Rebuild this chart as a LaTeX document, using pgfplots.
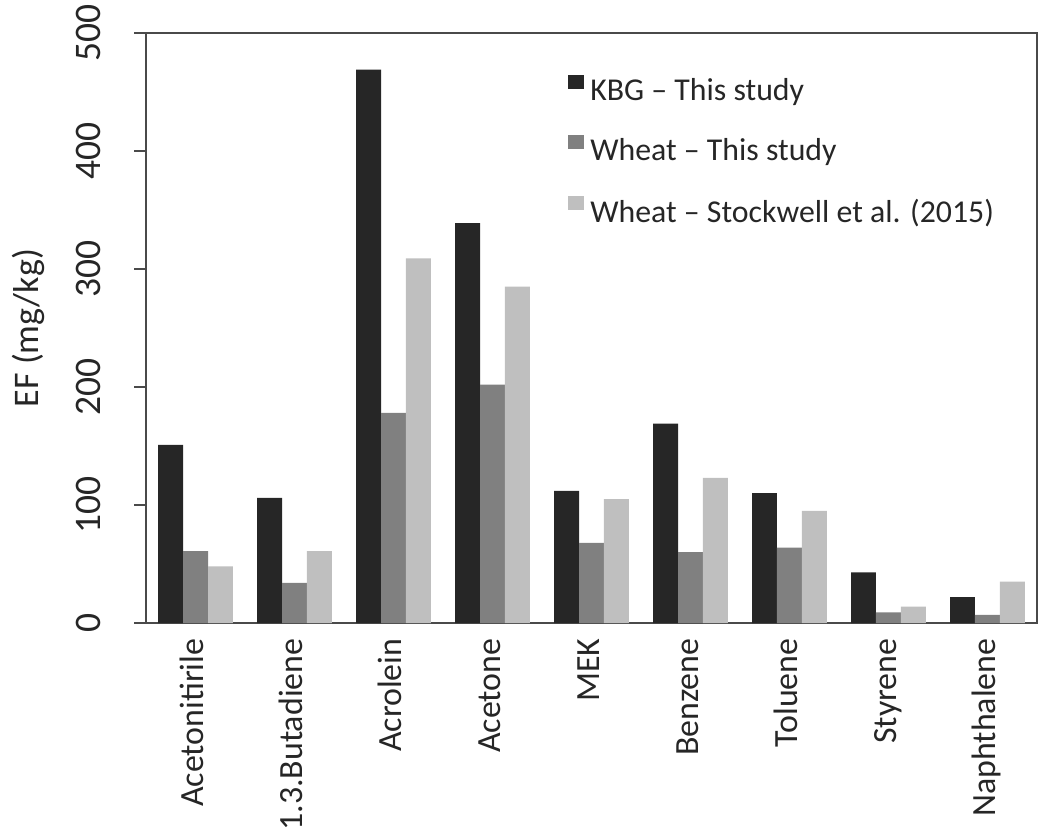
\documentclass[border=0pt]{standalone}
\usepackage{pgfplots}
\pgfplotsset{compat=1.18}
\usepackage{fontspec}
\setmainfont{Carlito}
\definecolor{cA}{HTML}{262626}
\definecolor{cB}{HTML}{808080}
\definecolor{cC}{HTML}{BFBFBF}
\definecolor{axc}{HTML}{4A4A4A}
\begin{document}
\fontsize{11.3}{13.5}\selectfont
\begin{tikzpicture}
\useasboundingbox (-48.67pt,-68.67pt) rectangle (301.33pt,207.67pt);
\begin{axis}[
  at={(0pt,0pt)}, anchor=south west,
  width=297pt, height=196.67pt, scale only axis,
  xmin=-0.5, xmax=8.5, ymin=0, ymax=500,
  ybar=0pt, bar width=8.33pt,
  ytick={0,100,200,300,400,500},
  xtick={0,1,2,3,4,5,6,7,8},
  xticklabels={Acetonitirile,1.3.Butadiene,Acrolein,Acetone,MEK,Benzene,Toluene,Styrene,Naphthalene},
  x tick style={draw=none},
  ytick pos=left,
  tick align=outside,
  major tick length=4pt,
  y tick style={draw=axc, line width=0.7pt},
  axis line style={draw=axc, line width=0.7pt},
  ticklabel style={text=black!85},
  /pgf/number format/assume math mode=true,
  yticklabel style={rotate=90, anchor=south, inner sep=0pt, font=\fontsize{12.5}{14}\selectfont},
  yticklabel shift=11pt,
  xticklabel style={rotate=90, anchor=mid east, inner sep=0pt, font=\fontsize{11.3}{13.5}\selectfont},
  xticklabel shift=1pt,
  ylabel={EF (mg/kg)},
  ylabel style={at={([xshift=-39.3pt]axis description cs:0,0.5)}, anchor=center, text=black!85, font=\fontsize{12}{14}\selectfont},
  legend style={draw=none, fill=none, at={([xshift=137.5pt,yshift=-11pt]axis description cs:0,1)}, anchor=north west, row sep=7pt, font=\fontsize{10.6}{12.5}\selectfont, text=black!85},
  legend cell align=left,
  legend image code/.code={\fill[#1] (-0.8pt,1pt) rectangle (4.6pt,5.7pt);},
]
\addplot[fill=cA, draw=none] coordinates {(0,151) (1,106) (2,469) (3,339) (4,112) (5,169) (6,110) (7,43) (8,22)};
\addplot[fill=cB, draw=none] coordinates {(0,61) (1,34) (2,178) (3,202) (4,68) (5,60) (6,64) (7,9) (8,7)};
\addplot[fill=cC, draw=none] coordinates {(0,48) (1,61) (2,309) (3,285) (4,105) (5,123) (6,95) (7,14) (8,35)};
\legend{KBG -- This study, Wheat -- This study, Wheat -- Stockwell et al. (2015)}
\end{axis}
\end{tikzpicture}
\end{document}
